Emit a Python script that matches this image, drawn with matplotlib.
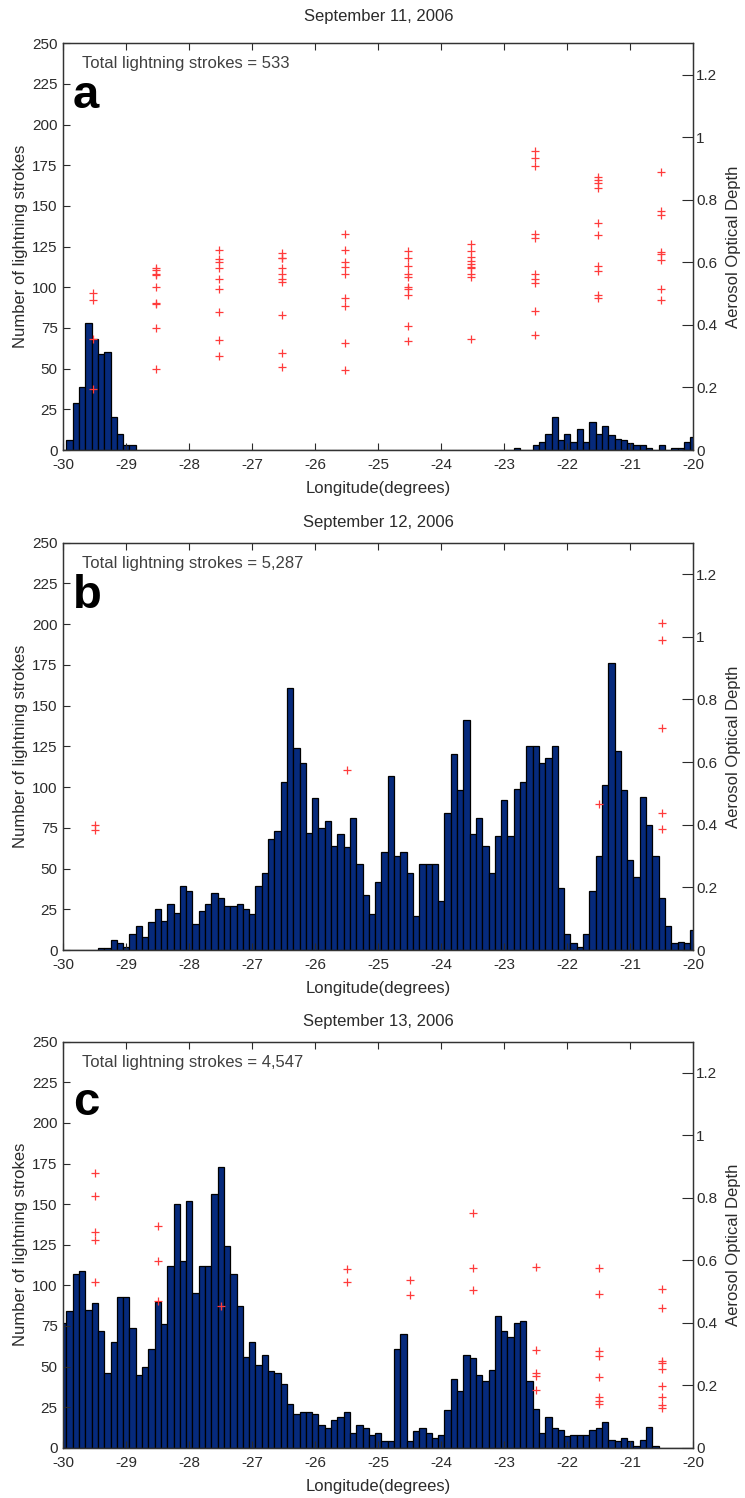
import numpy as np
import matplotlib
matplotlib.use('Agg')
import matplotlib.pyplot as plt

plt.rcParams['font.family'] = ['Liberation Sans', 'DejaVu Sans']
plt.rcParams['axes.unicode_minus'] = False

# histogram bin centres (0.1 degree bins)
lon = np.round(np.arange(-30, -19.95, 0.1), 1)

# lightning stroke counts per bin
counts_sep11 = [0, 6, 29, 39, 78, 68, 59, 60, 20, 10,
                3, 3, 0, 0, 0, 0, 0, 0, 0, 0,
                0, 0, 0, 0, 0, 0, 0, 0, 0, 0,
                0, 0, 0, 0, 0, 0, 0, 0, 0, 0,
                0, 0, 0, 0, 0, 0, 0, 0, 0, 0,
                0, 0, 0, 0, 0, 0, 0, 0, 0, 0,
                0, 0, 0, 0, 0, 0, 0, 0, 0, 0,
                0, 0, 1, 0, 0, 3, 5, 10, 20, 6,
                10, 5, 13, 5, 17, 10, 15, 9, 7, 6,
                4, 3, 3, 1, 0, 3, 0, 1, 1, 5,
                8]

counts_sep12 = [0, 0, 0, 0, 0, 0, 1, 1, 6, 4,
                2, 10, 15, 8, 17, 25, 18, 28, 23, 39,
                36, 16, 24, 28, 35, 32, 27, 27, 28, 25,
                22, 39, 47, 68, 73, 103, 161, 124, 115, 72,
                93, 75, 79, 64, 71, 63, 81, 53, 34, 22,
                42, 60, 107, 58, 60, 47, 21, 53, 53, 53,
                30, 84, 120, 98, 141, 71, 81, 64, 47, 70,
                92, 70, 99, 103, 125, 125, 115, 118, 125, 38,
                10, 4, 2, 10, 36, 58, 101, 176, 122, 98,
                55, 45, 94, 77, 58, 32, 15, 4, 5, 4,
                12]

counts_sep13 = [77, 84, 107, 109, 85, 89, 72, 46, 65, 93,
                93, 74, 45, 50, 61, 90, 76, 112, 150, 115,
                152, 95, 112, 112, 156, 173, 124, 107, 87, 56,
                65, 51, 57, 47, 46, 39, 27, 21, 22, 22,
                21, 14, 12, 17, 19, 22, 9, 14, 12, 8,
                9, 4, 4, 61, 70, 4, 10, 12, 9, 6,
                8, 23, 42, 35, 57, 55, 45, 41, 48, 81,
                72, 68, 77, 78, 41, 24, 9, 19, 12, 11,
                7, 8, 8, 8, 11, 12, 16, 5, 4, 6,
                4, 1, 5, 13, 1, 0, 0, 0, 0, 0,
                0]

# aerosol optical depth retrievals (longitude, AOD)
aod_lon_sep11 = [-29.53] * 4 + [-28.53] * 9 + [-27.53] * 9 + [-26.53] * 10 + [-25.53] * 9 \
    + [-24.53] * 10 + [-23.53] * 10 + [-22.52] * 10 + [-21.51] * 10 + [-20.51] * 8
aod_sep11 = [0.503, 0.479, 0.354, 0.194,
             0.583, 0.575, 0.562, 0.559, 0.520, 0.469, 0.466, 0.391, 0.258,
             0.639, 0.610, 0.602, 0.581, 0.546, 0.516, 0.442, 0.351, 0.299,
             0.631, 0.615, 0.613, 0.581, 0.563, 0.546, 0.538, 0.432, 0.310, 0.264,
             0.689, 0.639, 0.602, 0.586, 0.563, 0.487, 0.461, 0.343, 0.255,
             0.637, 0.614, 0.587, 0.561, 0.552, 0.522, 0.514, 0.497, 0.396, 0.348,
             0.658, 0.635, 0.616, 0.605, 0.595, 0.584, 0.581, 0.561, 0.552, 0.356,
             0.956, 0.932, 0.908, 0.690, 0.677, 0.561, 0.547, 0.534, 0.444, 0.366,
             0.874, 0.863, 0.852, 0.839, 0.726, 0.687, 0.589, 0.571, 0.497, 0.485,
             0.888, 0.765, 0.751, 0.632, 0.627, 0.607, 0.516, 0.481]

aod_lon_sep12 = [-29.5] * 2 + [-25.5] + [-21.5] + [-20.5] * 5
aod_sep12 = [0.398, 0.384,
             0.576,
             0.465,
             1.043, 0.990, 0.708, 0.4375, 0.3865]

aod_lon_sep13 = [-29.5] * 5 + [-28.5] * 3 + [-27.5] + [-25.5] * 2 + [-24.5] * 2 \
    + [-23.5] * 3 + [-22.5] * 5 + [-21.5] * 8 + [-20.5] * 9
aod_sep13 = [0.878, 0.807, 0.690, 0.665, 0.532,
             0.711, 0.598, 0.470,
             0.454,
             0.572, 0.529,
             0.538, 0.489,
             0.751, 0.574, 0.506,
             0.578, 0.312, 0.240, 0.230, 0.184,
             0.574, 0.491, 0.310, 0.294, 0.227, 0.163, 0.149, 0.141,
             0.507, 0.446, 0.278, 0.271, 0.251, 0.198, 0.163, 0.136, 0.126]

totals = ['533', '5,287', '4,547']
dates = ['September 11, 2006', 'September 12, 2006', 'September 13, 2006']
letters = ['a', 'b', 'c']

BAR_COLOR = '#062a7c'
TXT = '#2b2b2b'

W, H = 745, 1498
fig = plt.figure(figsize=(W / 100, H / 100), dpi=100)

# pixel boxes of each panel: (top, bottom), plus title / xlabel centre rows
panel_px = [(43.3, 450.0), (542.7, 950.0), (1041.7, 1447.7)]
title_px = [16, 522.5, 1021.5]
xlabel_px = [488, 989, 1487]
letter_y = [0.84, 0.84, 0.82]

all_counts = [counts_sep11, counts_sep12, counts_sep13]
all_aod_lon = [aod_lon_sep11, aod_lon_sep12, aod_lon_sep13]
all_aod = [aod_sep11, aod_sep12, aod_sep13]

x0, x1 = 63.3, 693.3
for i in range(3):
    top, bot = panel_px[i]
    rect = [x0 / W, 1 - bot / H, (x1 - x0) / W, (bot - top) / H]
    ax = fig.add_axes(rect)
    ax.bar(lon, all_counts[i], width=0.1, color=BAR_COLOR, edgecolor='black', linewidth=0.9)
    ax.set_xlim(-30, -20)
    ax.set_ylim(0, 250)
    ax.set_xticks(np.arange(-30, -19, 1))
    ax.set_yticks(np.arange(0, 251, 25))
    ax.tick_params(direction='in', top=True, right=False, length=5, width=0.8,
                   labelsize=11, colors=TXT, pad=4)
    ax.tick_params(axis='x', pad=6)
    for s in ax.spines.values():
        s.set_color('#333333')
        s.set_linewidth(0.9)
    ax.set_ylabel('Number of lightning strokes', fontsize=12, color=TXT, labelpad=3)

    ax2 = ax.twinx()
    ax2.plot(all_aod_lon[i], all_aod[i], '+', color='#ff3b3b', ms=5.5, mew=0.9)
    ax2.set_ylim(0, 1.3)
    ax2.set_yticks([0, 0.2, 0.4, 0.6, 0.8, 1.0, 1.2])
    ax2.set_yticklabels(['0', '0.2', '0.4', '0.6', '0.8', '1', '1.2'])
    ax2.tick_params(direction='in', length=8, width=0.8, labelsize=11, colors=TXT, pad=2)
    for s in ax2.spines.values():
        s.set_color('#333333')
        s.set_linewidth(0.9)
    ax2.set_ylabel('Aerosol Optical Depth', fontsize=12, color=TXT, labelpad=6)

    ax.text(0.03, 0.95, 'Total lightning strokes = ' + totals[i], transform=ax.transAxes,
            fontsize=12, color='#404040', ha='left', va='center')
    ax.text(0.015, letter_y[i], letters[i], transform=ax.transAxes,
            fontsize=34, fontweight='bold', color='black', ha='left', va='baseline')

    fig.text(0.5 * (x0 + x1) / W, 1 - title_px[i] / H, dates[i], fontsize=12,
             color=TXT, ha='center', va='center')
    fig.text(0.5 * (x0 + x1) / W, 1 - xlabel_px[i] / H, 'Longitude(degrees)', fontsize=12,
             color=TXT, ha='center', va='center')

fig.savefig('out.png', dpi=100)
